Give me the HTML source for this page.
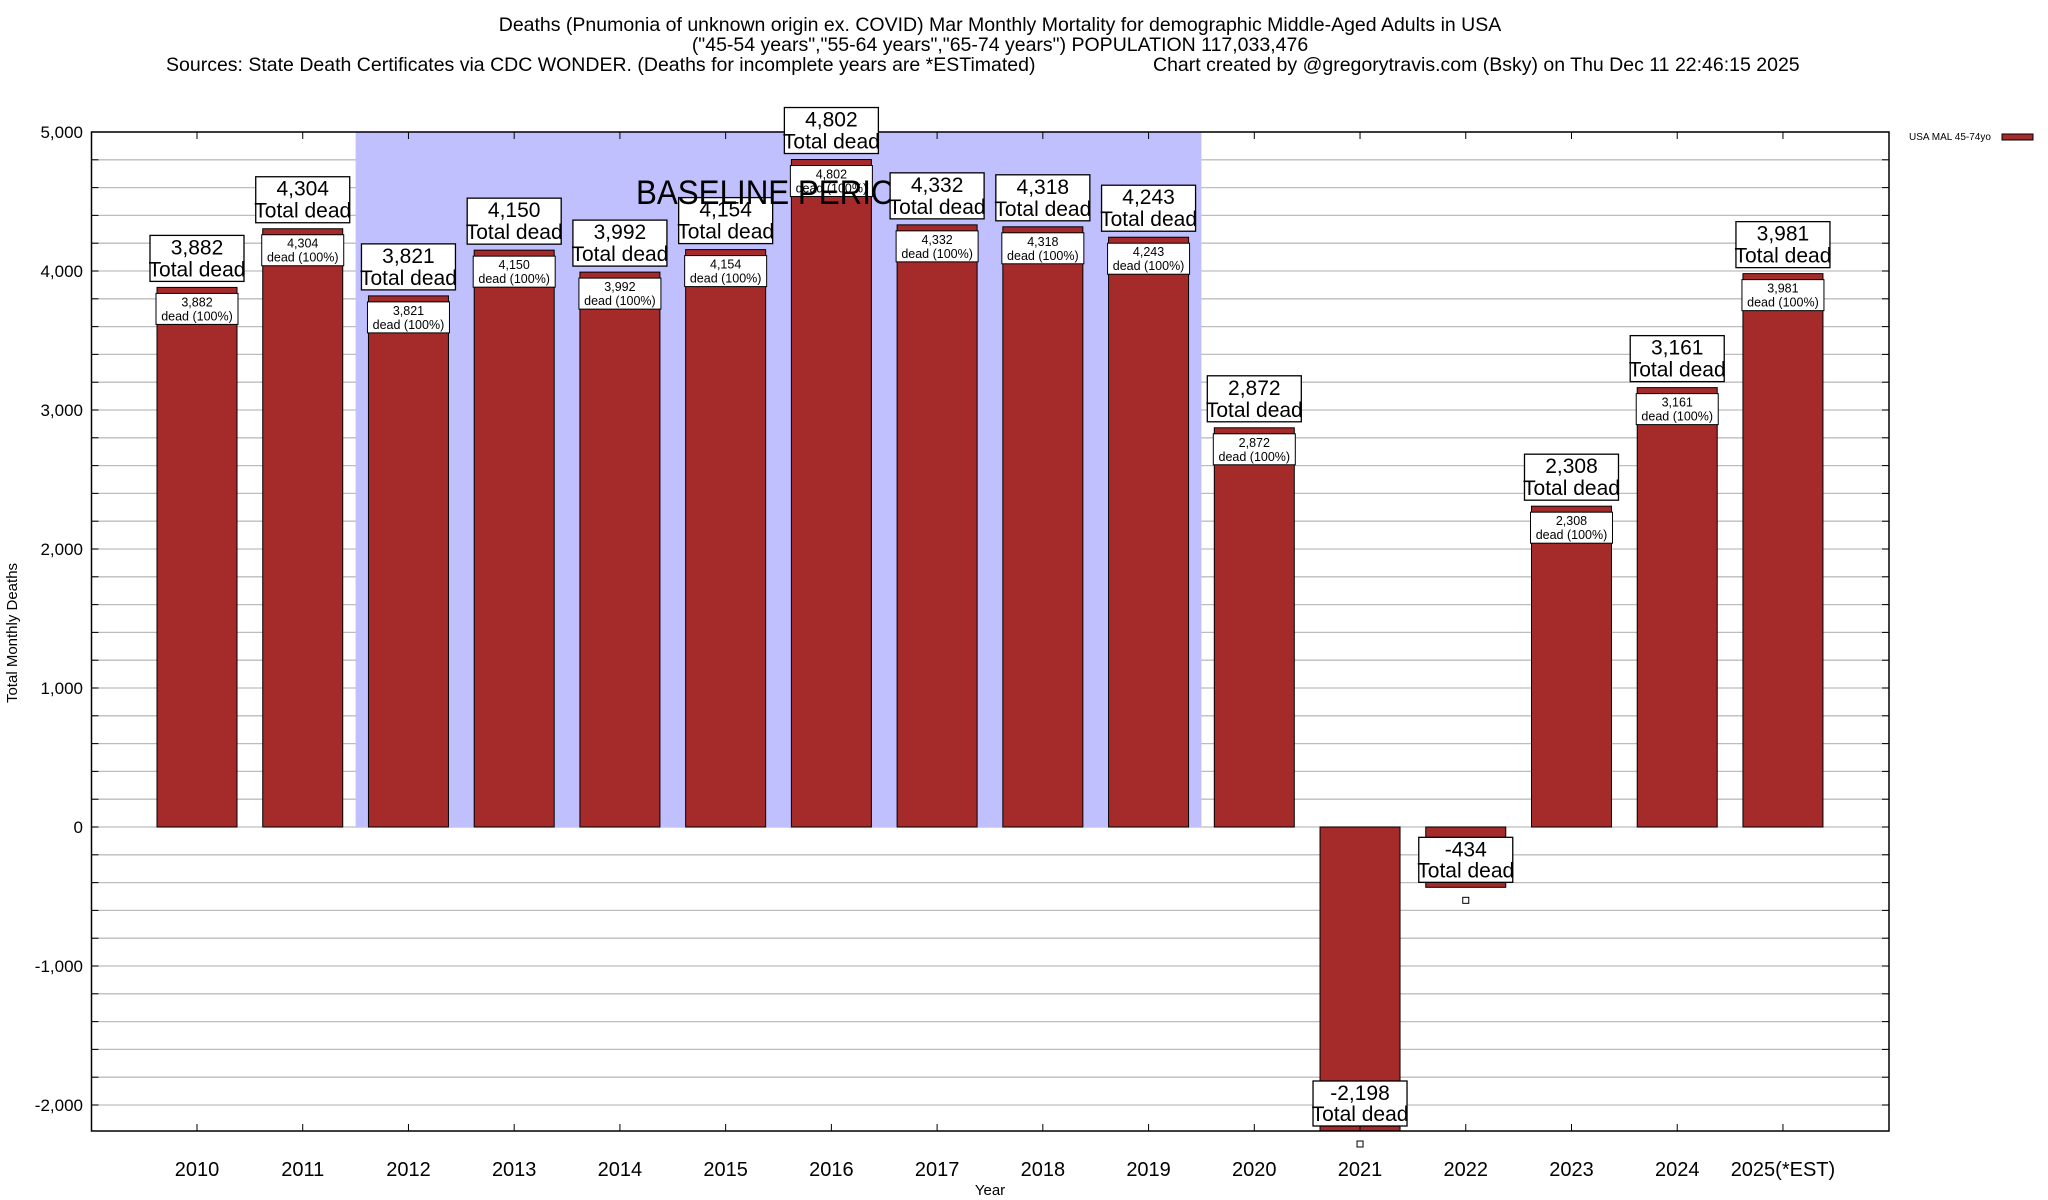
<!DOCTYPE html>
<html><head><meta charset="utf-8"><style>
html,body{margin:0;padding:0;background:#fff;}
svg{display:block;font-family:"Liberation Sans",Arial,sans-serif;}
</style></head><body>
<svg id="chart" width="2048" height="1200" viewBox="0 0 2048 1200">
<g font-size="19.5" fill="#000">
<text x="1000" y="31" text-anchor="middle">Deaths (Pnumonia of unknown origin ex. COVID) Mar Monthly Mortality for demographic Middle-Aged Adults in USA</text>
<text x="1000" y="51" text-anchor="middle">("45-54 years","55-64 years","65-74 years") POPULATION 117,033,476</text>
<text x="166" y="71">Sources: State Death Certificates via CDC WONDER. (Deaths for incomplete years are *ESTimated)</text>
<text x="1153" y="71">Chart created by @gregorytravis.com (Bsky) on Thu Dec 11 22:46:15 2025</text>
</g>
<g id="grid"></g>
<g id="shade"></g>
<g id="bars"></g>
<g id="axes"></g>
<g id="labels"></g>
<text x="17" y="633" font-size="15" text-anchor="middle" transform="rotate(-90 17 633)">Total Monthly Deaths</text>
<text x="990" y="1195" font-size="15" text-anchor="middle">Year</text>
<g>
<text x="1909" y="140" font-size="10">USA MAL 45-74yo</text>
<rect x="2002" y="134" width="31" height="6" fill="#a52a2a" stroke="#000" stroke-width="1"/>
</g>
</svg>
<script>
const years = ["2010","2011","2012","2013","2014","2015","2016","2017","2018","2019","2020","2021","2022","2023","2024","2025(*EST)"];
const deaths = [3882,4304,3821,4150,3992,4154,4802,4332,4318,4243,2872,-2198,-434,2308,3161,3981];
const yTicks = [-2000,-1000,0,1000,2000,3000,4000,5000];
const baselineStart = 2;
const baselineEnd = 9;
const NS="http://www.w3.org/2000/svg";
const L=91.5,R=1889,T=132,B=1131;
const y=v=>827-v*0.139;
const x=i=>197+i*105.73;
const BW=80;
function mk(tag,attrs,parent){const e=document.createElementNS(NS,tag);for(const k in attrs)e.setAttribute(k,attrs[k]);parent.appendChild(e);return e;}
const fmt=v=>(v<0?"-":"")+Math.abs(v).toLocaleString("en-US");
const grid=document.getElementById("grid"),shade=document.getElementById("shade"),bars=document.getElementById("bars"),axes=document.getElementById("axes"),labels=document.getElementById("labels");
for(let v=-2000;v<=5000;v+=200){
  const g=mk("line",{x1:L,x2:R,y1:y(v),y2:y(v),stroke:"#bdbdbd","stroke-width":1.3},grid);
  
  
  const t=mk("line",{x1:L,x2:L+7,y1:y(v),y2:y(v),stroke:"#000","stroke-width":1},axes);
  
  
  const t2=mk("line",{x1:R-7,x2:R,y1:y(v),y2:y(v),stroke:"#000","stroke-width":1},axes);
  
  
}
const sx1=(x(baselineStart-1)+x(baselineStart))/2,sx2=(x(baselineEnd)+x(baselineEnd+1))/2;
const sr=mk("rect",{x:sx1,y:T,width:sx2-sx1,height:y(0)-T,fill:"#c0c0ff"},shade);


deaths.forEach((v,i)=>{
  const cx=x(i),top=Math.min(y(v),y(0)),bot=Math.max(y(v),y(0));
  const b=mk("rect",{x:cx-BW/2,y:Math.max(top,T),width:BW,height:Math.min(bot,B)-Math.max(top,T),fill:"#a52a2a",stroke:"#000","stroke-width":1},bars);
  
  
});
deaths.forEach((v,i)=>{
  const cx=x(i);
  if(v>=0){
    const top=y(v);
    const bx=mk("rect",{x:cx-47,y:top-52,width:94,height:46,fill:"#fff",stroke:"#000","stroke-width":1.3},labels);
    
    
    const t1=mk("text",{x:cx,y:top-33,"font-size":21,"text-anchor":"middle"},labels);
    t1.textContent=fmt(v);
    
    
    const t2=mk("text",{x:cx,y:top-11,"font-size":21,"text-anchor":"middle"},labels);
    t2.textContent="Total dead";
    
    
    const sb=mk("rect",{x:cx-41,y:top+6,width:82,height:31,fill:"#fff",stroke:"#000","stroke-width":1},labels);
    
    
    const s1=mk("text",{x:cx,y:top+19,"font-size":12.5,"text-anchor":"middle"},labels);
    s1.textContent=fmt(v);
    
    
    const s2=mk("text",{x:cx,y:top+33,"font-size":12.5,"text-anchor":"middle"},labels);
    s2.textContent="dead (100%)";
    
    
  } else {
    const end=Math.min(y(v),B);
    const bb=end-5;
    const bx=mk("rect",{x:cx-47,y:bb-45,width:94,height:45,fill:"#fff",stroke:"#000","stroke-width":1.3},labels);
    
    
    const t1=mk("text",{x:cx,y:bb-26,"font-size":21,"text-anchor":"middle"},labels);
    t1.textContent=fmt(v);
    
    
    const t2=mk("text",{x:cx,y:bb-5,"font-size":21,"text-anchor":"middle"},labels);
    t2.textContent="Total dead";
    
    
    const m=mk("rect",{x:cx-3,y:end+10,width:6,height:6,fill:"#fff",stroke:"#000","stroke-width":1},labels);
    
    
  }
  if(i===6){
    const bt=mk("text",{x:636,y:204,"font-size":34,textLength:282,lengthAdjust:"spacingAndGlyphs"},labels);
    bt.textContent="BASELINE PERIOD";
    
    
  }
});
const fr=mk("rect",{x:L,y:T,width:R-L,height:B-T,fill:"none",stroke:"#000","stroke-width":1.5},axes);


yTicks.forEach(v=>{
  const t=mk("text",{x:83,y:y(v)+6,"font-size":17,"text-anchor":"end"},axes);
  t.textContent=fmt(v);
  
  
});
years.forEach((yr,i)=>{
  const cx=x(i);
  const tk=mk("line",{x1:cx,x2:cx,y1:B,y2:B-7,stroke:"#000","stroke-width":1},axes);
  
  
  const tk2=mk("line",{x1:cx,x2:cx,y1:T,y2:T+7,stroke:"#000","stroke-width":1},axes);
  
  
  const t=mk("text",{x:cx,y:1176,"font-size":20,"text-anchor":"middle"},axes);
  t.textContent=yr;
  
  
});
</script>
</body></html>
